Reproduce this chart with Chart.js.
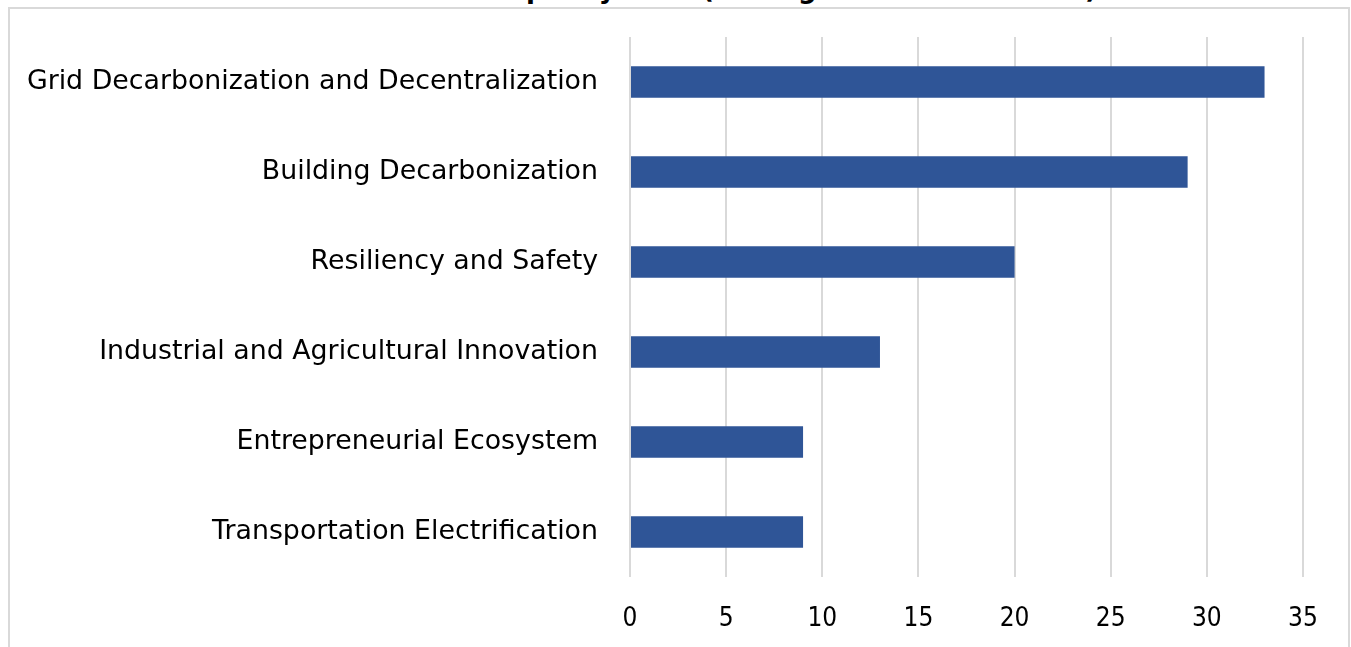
<!DOCTYPE html>
<html>
<head>
<meta charset="utf-8">
<script src="https://cdn.jsdelivr.net/npm/chart.js@4"></script>
<style>
  html, body { margin: 0; padding: 0; background: #fff; overflow: hidden; }
  body { width: 1351px; height: 647px; position: relative; }
  #title {
    position: absolute; left: 0; top: -26px; width: 1097px;
    text-align: right; font: bold 26px "DejaVu Sans", sans-serif; line-height: 30px;
    color: #000; white-space: nowrap;
  }
  #frame {
    position: absolute; left: 8px; top: 7px; width: 1338px; height: 700px;
    border: 2px solid #d9d9d9;
  }
  #wrap { position: absolute; left: 0; top: 0; width: 1351px; height: 647px; }
</style>
</head>
<body>
<div id="title">Sample by Area (Average Score out of 100)</div>
<div id="frame"></div>
<div id="wrap"><canvas id="chart"></canvas></div>
<script>
const categories = [
  'Grid Decarbonization and Decentralization',
  'Building Decarbonization',
  'Resiliency and Safety',
  'Industrial and Agricultural Innovation',
  'Entrepreneurial Ecosystem',
  'Transportation Electrification'
];
const values = [33, 29, 20, 13, 9, 9];
const axisMax = 35;
const axisStep = 5;

const labelFont = { family: '"DejaVu Sans", sans-serif', size: 26.8 };
const tickFont = { family: '"DejaVu Sans Condensed", "DejaVu Sans", sans-serif', size: 26 };

const ctx = document.getElementById('chart');
const chart = new Chart(ctx, {
  type: 'bar',
  data: {
    labels: categories,
    datasets: [{
      data: values,
      backgroundColor: '#2f5597',
      borderWidth: 0,
      barPercentage: 0.35,
      categoryPercentage: 1
    }]
  },
  options: {
    indexAxis: 'y',
    responsive: true,
    maintainAspectRatio: false,
    animation: false,
    layout: { padding: { left: 0, right: 48, top: 37, bottom: 0 } },
    plugins: {
      legend: { display: false },
      title: { display: false },
      tooltip: { enabled: false }
    },
    scales: {
      x: {
        min: 0,
        max: axisMax,
        ticks: { stepSize: axisStep, color: '#000', font: tickFont, padding: 27 },
        grid: { color: '#d9d9d9', lineWidth: 2, drawTicks: false },
        border: { display: false },
        afterFit: s => { s.height = 70; }
      },
      y: {
        ticks: { color: '#000', font: labelFont, padding: 24 },
        grid: { display: false },
        border: { display: false },
        afterFit: s => { s.width = 630; s.paddingTop = 0; s.paddingBottom = 0; }
      }
    }
  }
});
</script>
</body>
</html>
